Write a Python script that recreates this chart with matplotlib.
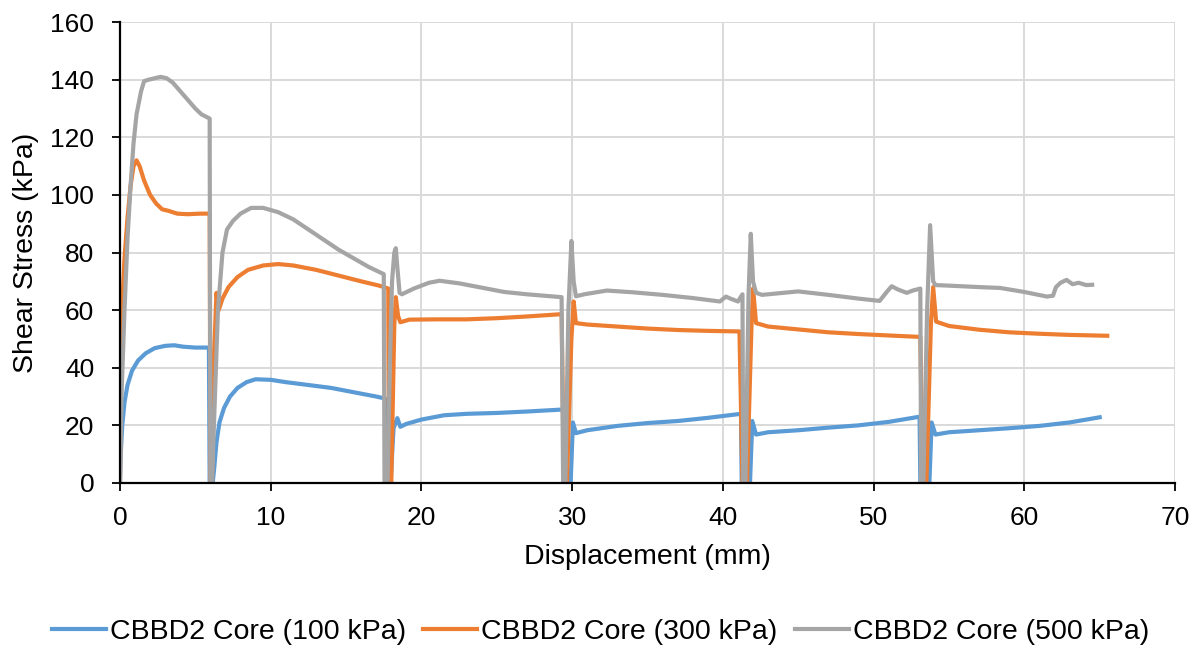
import matplotlib
matplotlib.use("Agg")
import matplotlib.pyplot as plt

# (displacement mm, shear stress kPa)
blue_pts = [(0, 0), (0.05, 10), (0.15, 20), (0.3, 28), (0.5, 34), (0.8, 39), (1.2, 42.5),
            (1.7, 45), (2.3, 46.8), (3.0, 47.6), (3.6, 47.8), (4.2, 47.3), (5.0, 47.0),
            (5.9, 47.0), (5.95, 0), (6.15, 0), (6.25, 5), (6.4, 14), (6.6, 21), (6.9, 26),
            (7.3, 30), (7.8, 33), (8.4, 35), (9.0, 36), (10.0, 35.8), (11.0, 35),
            (12.5, 34), (14.0, 33), (15.5, 31.5), (17.0, 30), (17.6, 29.3), (17.65, 0),
            (17.95, 0), (18.15, 19), (18.4, 22.5), (18.6, 19.5), (19.0, 20.5), (20.0, 22),
            (21.5, 23.5), (23.0, 24), (25.0, 24.3), (27.0, 24.8), (29.4, 25.5), (29.45, 0),
            (29.9, 0), (30.05, 21), (30.25, 17.3), (31.0, 18.3), (33.0, 19.8), (35.0, 20.8),
            (37.0, 21.5), (39.0, 22.6), (41.2, 24), (41.25, 0), (41.8, 0), (41.95, 21.5),
            (42.2, 16.8), (43.0, 17.6), (45.0, 18.3), (47.0, 19.2), (49.0, 20),
            (51.0, 21.2), (53.05, 23), (53.1, 0), (53.7, 0), (53.85, 21), (54.1, 16.8),
            (55.0, 17.6), (57.0, 18.3), (59.0, 19.0), (61.0, 19.8), (63.0, 21), (65.0, 22.8)]

orange_pts = [(0, 0), (0.05, 40), (0.15, 62), (0.3, 78), (0.5, 92), (0.7, 103), (0.9, 110),
              (1.1, 112), (1.3, 110), (1.6, 105), (2.0, 100), (2.4, 97), (2.8, 95),
              (3.2, 94.5), (3.8, 93.5), (4.5, 93.3), (5.3, 93.5), (5.95, 93.5), (6.0, 0),
              (6.1, 0), (6.25, 45), (6.4, 66), (6.55, 60), (6.8, 64), (7.2, 68), (7.8, 71.5),
              (8.5, 74), (9.5, 75.5), (10.5, 76), (11.5, 75.5), (13, 74), (14.5, 72),
              (16, 70), (17.2, 68.5), (17.8, 67.5), (17.85, 0), (18.0, 0), (18.2, 55),
              (18.3, 64.5), (18.45, 58), (18.6, 55.8), (19.2, 56.7), (21, 56.8), (23, 56.8),
              (25, 57.2), (27, 57.8), (29.3, 58.6), (29.45, 0), (29.65, 0), (29.95, 50),
              (30.1, 63), (30.25, 55.5), (31, 55), (33, 54.3), (35, 53.6), (37, 53.1),
              (39, 52.8), (41.1, 52.6), (41.3, 0), (41.6, 0), (41.9, 55), (42.0, 67.5),
              (42.2, 55.5), (43, 54.3), (45, 53.3), (47, 52.3), (49, 51.7), (51, 51.2),
              (53.1, 50.7), (53.25, 0), (53.5, 0), (53.8, 55), (53.95, 68), (54.15, 56),
              (55, 54.5), (57, 53.2), (59, 52.3), (61, 51.8), (63, 51.4), (65.5, 51.1)]

gray_pts = [(0, 0), (0.1, 30), (0.3, 60), (0.5, 85), (0.7, 103), (0.9, 118), (1.1, 128),
            (1.4, 136), (1.6, 139.5), (1.9, 140), (2.3, 140.5), (2.7, 141), (3.1, 140.5),
            (3.5, 139), (4.0, 136), (4.5, 133), (5.0, 130), (5.4, 128), (5.95, 126.5),
            (6.0, 0), (6.1, 0), (6.3, 30), (6.5, 60), (6.8, 80), (7.1, 88), (7.5, 91),
            (8.0, 93.5), (8.7, 95.5), (9.5, 95.5), (10.5, 94), (11.5, 91.5), (12.5, 88),
            (13.5, 84.5), (14.5, 81), (15.5, 78), (16.5, 75), (17.5, 72.5), (17.55, 0),
            (17.75, 0), (17.9, 40), (18.05, 70), (18.2, 80), (18.3, 81.5), (18.4, 75),
            (18.55, 66), (18.7, 65.5), (19.5, 67.5), (20.5, 69.5), (21.2, 70.2),
            (22.5, 69.3), (24, 67.8), (25.5, 66.3), (27, 65.5), (29.3, 64.5), (29.4, 0),
            (29.55, 0), (29.75, 60), (29.95, 84), (30.1, 70), (30.25, 64.8), (30.8, 65.5),
            (32.3, 66.8), (34, 66.2), (36, 65.3), (38, 64.2), (39.8, 63), (40.2, 64.7),
            (40.5, 64), (41.0, 63), (41.3, 65.5), (41.35, 0), (41.5, 0), (41.7, 65),
            (41.85, 86.5), (42.0, 70), (42.2, 66), (42.6, 65.3), (43, 65.5), (45, 66.5),
            (47, 65.3), (49, 64), (50.4, 63.2), (50.9, 66.5), (51.2, 68.3), (51.6, 67.2),
            (52.2, 66), (52.6, 66.8), (53.1, 67.5), (53.15, 0), (53.3, 0), (53.55, 60),
            (53.75, 89.5), (53.95, 70), (54.1, 68.7), (55, 68.5), (57, 68), (58.4, 67.7),
            (60, 66.3), (61.5, 64.7), (61.9, 65), (62.1, 68), (62.4, 69.5), (62.8, 70.5),
            (63.2, 69), (63.6, 69.5), (64.1, 68.7), (64.5, 68.8)]

series = [("CBBD2 Core (100 kPa)", blue_pts, "#5B9BD5"),
          ("CBBD2 Core (300 kPa)", orange_pts, "#ED7D31"),
          ("CBBD2 Core (500 kPa)", gray_pts, "#A5A5A5")]

plt.rcParams['font.family'] = ['Liberation Sans', 'DejaVu Sans']

fig = plt.figure(figsize=(12.01, 6.5), dpi=100)
ax = fig.add_axes([0.0999, 0.257, 0.8785, 0.709])

for name, pts, col in series:
    xs = [p[0] for p in pts]
    ys = [p[1] for p in pts]
    ax.plot(xs, ys, color=col, lw=3.0, label=name, solid_joinstyle='round')

ax.set_xlim(0, 70)
ax.set_ylim(0, 160)
ax.set_xticks(range(0, 71, 10))
ax.set_yticks(range(0, 161, 20))
ax.grid(True, color="#D9D9D9", lw=1.4)
ax.set_axisbelow(True)
for s in ["top", "right"]:
    ax.spines[s].set_visible(False)
for s in ["left", "bottom"]:
    ax.spines[s].set_color("black")
    ax.spines[s].set_linewidth(1.6)
ax.tick_params(direction='out', length=5.5, width=1.3, labelsize=19, colors='black')
ax.tick_params(axis='y', pad=13)
ax.tick_params(axis='x', pad=11)
ax.set_xlabel("Displacement (mm)", fontsize=20.5, labelpad=10)
ax.set_ylabel("Shear Stress (kPa)", fontsize=20.5, labelpad=8)

fig.legend(loc='center', bbox_to_anchor=(0.5, 0.027), ncol=3, frameon=False,
           fontsize=20.5, handlelength=1.9, handletextpad=0.15, columnspacing=0.6)

fig.savefig("out.png", dpi=100)
